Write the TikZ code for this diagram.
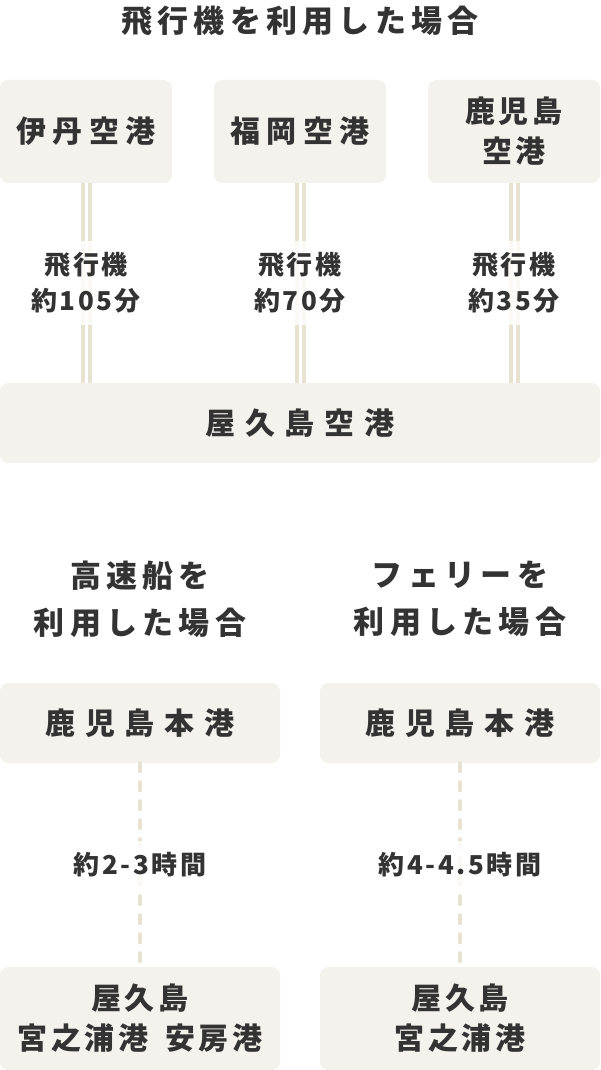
\documentclass[tikz,border=0pt]{standalone}
\usepackage{fontspec}
\setmainfont{Noto Sans CJK JP}
\usepackage{xcolor}
\definecolor{boxbg}{HTML}{F3F2ED}
\definecolor{route}{HTML}{E7E3D0}
\definecolor{ink}{HTML}{333333}
\newcommand\headfont{\fontsize{31}{47}\selectfont\bfseries\addfontfeature{LetterSpace=17}}
\newcommand\boxfont{\fontsize{30}{40}\selectfont\bfseries\addfontfeature{LetterSpace=22}}
\newcommand\timefont{\fontsize{26}{36}\selectfont\bfseries\addfontfeature{LetterSpace=10}}

\begin{document}
\begin{tikzpicture}[
  x=1pt, y=-1pt,
  text=ink,
  head/.style={font=\headfont, align=center, inner sep=0},
  port/.style={fill=boxbg, rounded corners=8pt, inner sep=0, align=center, font=\boxfont},
  wide/.style={font=\boxfont\addfontfeature{LetterSpace=33}},
  tight/.style={font=\boxfont\addfontfeature{LetterSpace=12}},
  timelbl/.style={fill=white, fill opacity=0.8, text opacity=1, align=center,
    font=\timefont, inner xsep=2pt, inner ysep=12pt},
  flight/.style={draw=route, line width=4pt, double=white, double distance=3pt},
  ferry/.style={draw=route, line width=4pt, line cap=round, dash pattern=on 8pt off 11pt},
]
\useasboundingbox (0,0) rectangle (600,1070);
% --- samolot ---
\node[head] (airhead) at (300,21) {飛行機を利用した場合};
\node[port, minimum width=172pt, minimum height=103pt] (itami) at (86,131.5) {伊丹空港};
\node[port, minimum width=172pt, minimum height=103pt] (fukuoka) at (300,131.5) {福岡空港};
\node[port, tight, minimum width=172pt, minimum height=103pt] (kagoair) at (514,131.5) {鹿児島\\空港};
\node[port, wide, minimum width=600pt, minimum height=80pt] (yakuair) at (300,423) {屋久島空港};
\draw[flight] (itami) -- node[timelbl] (t1) {飛行機\\約105分} (itami |- yakuair.north);
\draw[flight] (fukuoka) -- node[timelbl] (t2) {飛行機\\約70分} (fukuoka |- yakuair.north);
\draw[flight] (kagoair) -- node[timelbl] (t3) {飛行機\\約35分} (kagoair |- yakuair.north);
% --- statki ---
\node[head] (jethead) at (140,599) {高速船を\\利用した場合};
\node[head] (ferryhead) at (460,599) {フェリーを\\利用した場合};
\node[port, wide, minimum width=280pt, minimum height=80pt] (kagoA) at (140,723) {鹿児島本港};
\node[port, wide, minimum width=280pt, minimum height=80pt] (kagoB) at (460,723) {鹿児島本港};
\node[port, tight, minimum width=280pt, minimum height=103pt] (yakuA) at (140,1018.5) {屋久島\\宮之浦港\hspace{0.55em}安房港};
\node[port, tight, minimum width=280pt, minimum height=103pt] (yakuB) at (460,1018.5) {屋久島\\宮之浦港};
\draw[ferry] (kagoA) -- node[timelbl] (t4) {約2-3時間} (yakuA);
\draw[ferry] (kagoB) -- node[timelbl] (t5) {約4-4.5時間} (yakuB);
\end{tikzpicture}
\end{document}
